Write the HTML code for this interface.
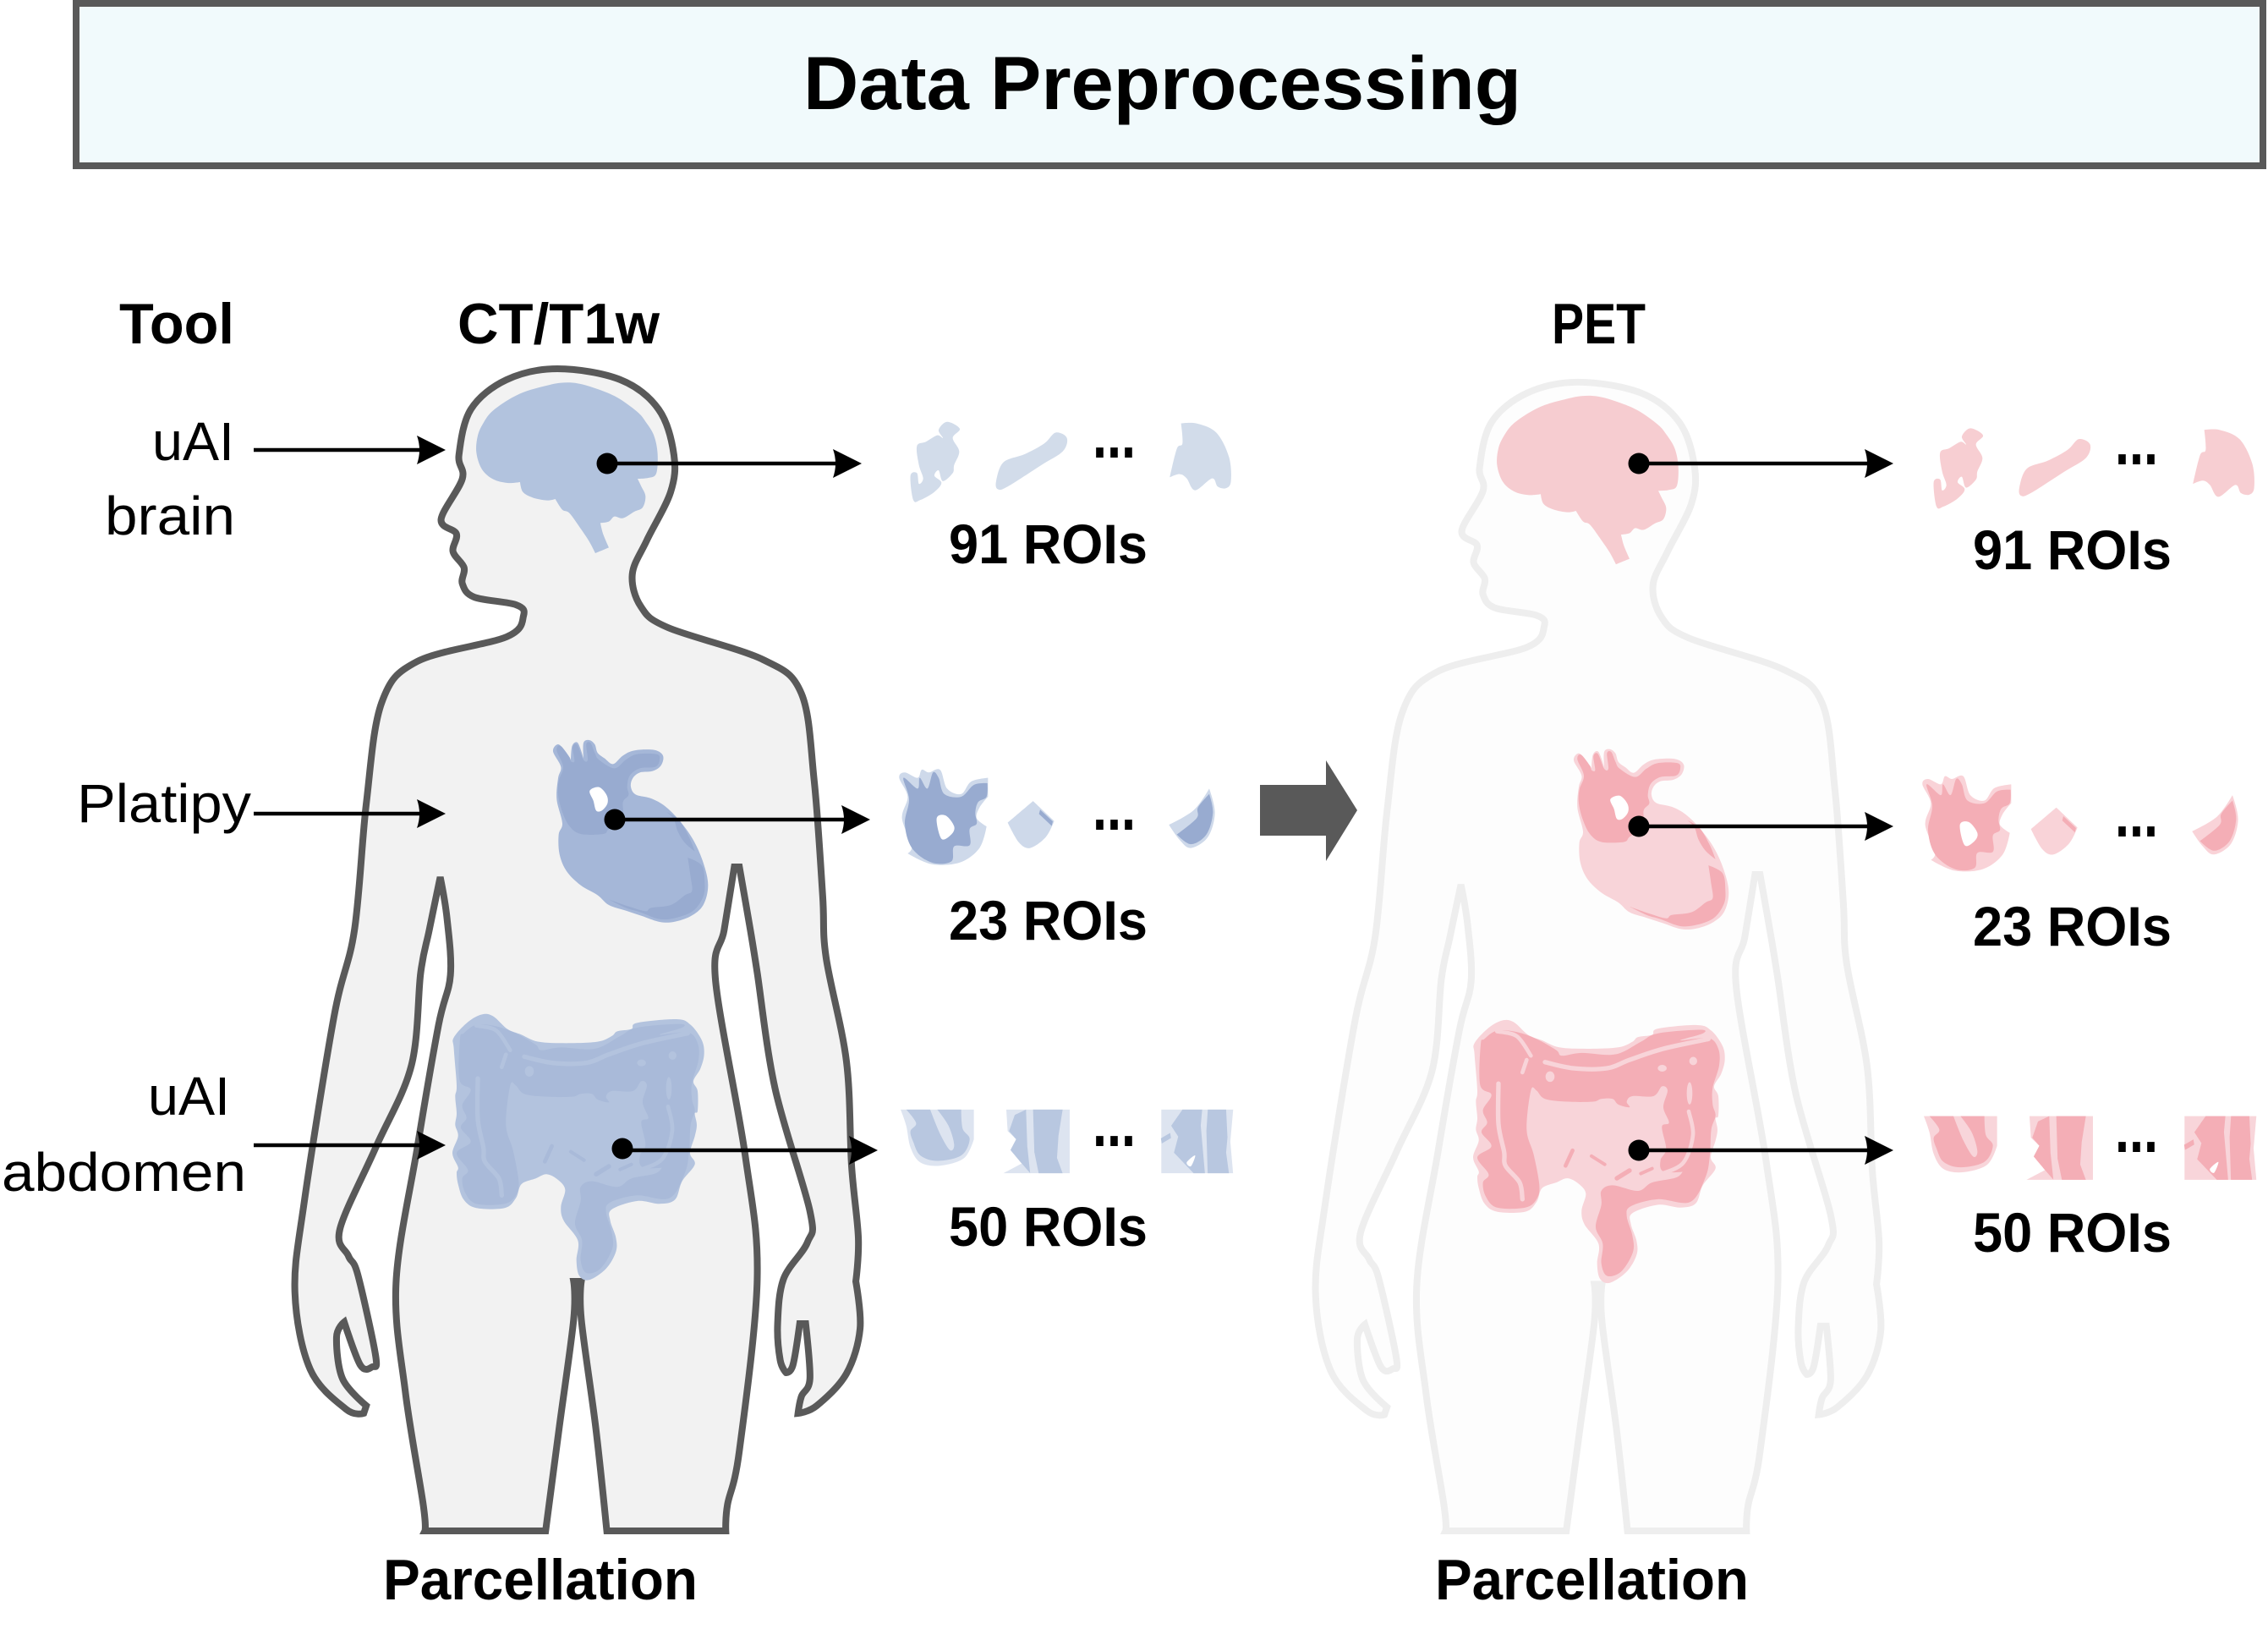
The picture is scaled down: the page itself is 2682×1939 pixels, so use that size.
<!DOCTYPE html>
<html lang="en">
<head>
<meta charset="utf-8">
<title>Data Preprocessing</title>
<style>
  html, body { margin: 0; padding: 0; background: #ffffff; }
  svg { display: block; }
  text { font-family: "Liberation Sans", sans-serif; fill: #000000; }
  .b { font-weight: 700; }
  .lbl { font-size: 64px; }
  .hdr { font-size: 68px; font-weight: 700; }
  .roi { font-size: 66px; font-weight: 700; }
  .dots { font-size: 80px; font-weight: 700; }
  .arrow-line { stroke: #000; stroke-width: 4.5; }
</style>
</head>
<body>
<svg xmlns="http://www.w3.org/2000/svg" width="2682" height="1939" viewBox="0 0 2682 1939">
  <defs>
    <path id="body-shape" stroke-linejoin="miter" stroke-miterlimit="3" data-pts="544,566 540,538 554,484 596,449 656,436 730,449 775,484 793,538 789,582 761,639 744,679 754,717 786,742 898,780 943,820 958,923 968,1059 972,1132 996,1255 1002,1378 1010,1464 1007,1515! 1012,1571 996,1624 961,1662 939,1671! 943,1651 953,1630 948,1565! 941,1565! 933,1614 925,1623! 918,1608 915,1565 922,1512 950,1469 953,1432 912,1287 891,1150 883,1100 870,1025! 864,1025! 852,1100 842,1160 877,1367 891,1512 870,1715 856,1779 854,1810! 714,1810! 701,1688 684,1560 684,1515! 675,1515! 675,1560 658,1688 642,1810! 500,1810! 498,1779 477,1646 466,1517 491,1357 516,1212 530,1153 526,1086 518,1037! 505,1100 495,1150 484,1260 442,1357 400,1453 410,1485 421,1507 442,1603 438,1616 424,1614 405,1563! 396,1581 403,1630 431,1662! 428,1671! 407,1666 365,1619 347,1528 358,1421 393,1202 417,1100 431,950 449,831 491,782 596,753 616,728 607,715 558,706 544,690 546,671 533,652 537,631 519,614"></path>

    <g id="brain-shape" transform="translate(550,440) scale(0.3333)">
      <path fill="var(--brain)" data-pts="340,38 400,40 470,60 540,90 610,140 640,175 670,225 683,290 678,360 650,375 612,378! 625,405 640,440 630,480 600,495 560,518 530,512 510,530 480,535! 490,575 510,622! 462,642! 440,600 410,555 370,500 345,488 320,450! 290,455 240,445 205,425 195,390! 150,393 100,380 60,345 40,285 45,225 65,180 95,140 150,100 210,70 280,50"></path>
    </g>

    <g id="heart-shape" transform="translate(640,870) scale(0.3333)">
      <path fill="var(--hl)" data-pts="42,55 60,30 85,55 105,85! 110,35 130,25 150,80! 150,25 170,15 190,30 200,60 225,80 255,100 290,70 330,52 400,50 432,70 425,105 395,125 350,130 325,150 318,180 335,208 390,222 440,250 490,300 540,370 575,450 592,530 575,600 530,640 470,660 420,660 360,640 300,620 240,600 200,565 140,530 90,480 65,420 62,350 75,310 55,225 60,150 70,110"></path>
      <path fill="var(--hd)" data-pts="55,52 68,35 100,75 105,90 118,90 112,40 128,32 150,85 165,85 160,30 175,25 190,60 205,85 260,115 300,85 340,65 410,65 420,85 405,110 350,115 315,140 305,180 310,210 290,235 288,290 240,330 220,348 140,348 100,320 75,270 60,210 62,160 78,110"></path>
      <path fill="#ffffff" data-pts="172,195 205,182 232,210 235,240 215,265 195,265 185,230"></path>
      <path fill="var(--hd)" data-pts="520,432! 570,460 580,520 575,570 540,620 480,645 420,650 350,625 300,610 240,580! 310,605 370,622 390,610 460,600 510,565 535,550 530,500"></path>
      <path fill="var(--hd)" data-pts="445,270! 490,300 525,360 545,410! 510,380 485,340 470,295"></path>
    </g>

    <g id="colon-shape" transform="translate(520,1190) scale(0.3333)">
      <path fill="var(--cl)" data-pts="50,110 100,55 150,28 190,35 240,80 290,100 350,125 450,130 560,125 610,105 630,88 680,80 700,58 840,45 890,65 930,120 938,170 925,220 900,265 915,300 915,370 905,380 912,420 905,460 888,520 905,560 860,620 835,685 780,700 700,690 610,720 605,760 625,820 625,870 590,930 530,970 495,955 485,900 490,830 440,760 430,710 445,650 420,615 380,595 340,610 290,630 270,680 230,715 130,715 85,685 65,630 60,590 65,570 45,520 65,460 55,420 60,380 55,320 60,280 50,150"></path>
      <path fill="var(--cd)" data-pts="72,115 85,95 130,65 200,70 270,95 340,135 360,155 430,145 550,150 640,105 700,75 850,62 860,75 780,100 880,92 915,130 918,190 895,270 895,330 905,370 890,420 885,510 870,590 815,680 700,670 605,695 590,730 610,800 612,860 570,930 520,945 500,900 505,830 480,770 500,690 500,640 540,620 630,640 680,610 770,590 800,550 800,570 720,570 710,530 730,490 715,410 740,395 720,340 735,280 715,265 685,300 610,300 590,320 600,340 560,330 540,310 500,310 470,320 380,320 300,310 270,280 250,280 235,420 260,510 280,620 270,670 230,700 130,700 90,660 80,610 100,580 60,520 110,480 75,430 95,395 80,350 110,295 70,260"></path>
      <path fill="none" stroke="var(--cl)" stroke-width="16" stroke-linecap="round" data-open="1" data-pts="135,255 135,400 155,500 160,550 210,610 220,670"></path>
      <path fill="none" stroke="var(--cl)" stroke-width="16" stroke-linecap="round" data-open="1" data-pts="300,178 400,200 520,200 600,170 720,130 880,95"></path>
      <path fill="none" stroke="var(--cl)" stroke-width="14" stroke-linecap="round" data-open="1" data-pts="130,68 200,85 250,155"></path>
      <path fill="none" stroke="var(--cl)" stroke-width="14" stroke-linecap="round" data-open="1" data-pts="235,170 220,215"></path>
      <path fill="none" stroke="var(--cl)" stroke-width="14" stroke-linecap="round" data-open="1" data-pts="810,355 825,440 790,540 710,580"></path>
      <ellipse cx="318" cy="230" rx="16" ry="19" fill="var(--cl)"></ellipse>
      <ellipse cx="716" cy="200" rx="16" ry="12" fill="var(--cl)"></ellipse>
      <ellipse cx="826" cy="174" rx="14" ry="15" fill="var(--cl)"></ellipse>
      <ellipse cx="813" cy="290" rx="10" ry="40" fill="var(--cl)"></ellipse>
      <path fill="none" stroke="var(--cd)" stroke-width="14" stroke-linecap="round" data-open="1" data-pts="398,495 373,550"></path>
      <path fill="none" stroke="var(--cd)" stroke-width="12" stroke-linecap="round" data-open="1" data-pts="465,515 512,545"></path>
      <path fill="none" stroke="var(--cd)" stroke-width="16" stroke-linecap="round" data-open="1" data-pts="555,595 600,567"></path>
      <path fill="none" stroke="var(--cd)" stroke-width="12" stroke-linecap="round" data-open="1" data-pts="640,578 680,560"></path>
    </g>

    <g id="roi-set" transform="translate(1040,470) scale(0.3333,0.6378)">
      <path fill="var(--ra)" data-pts="95,145 118,140 125,160 140,150 125,125 118,90 150,82 190,70 210,75 195,60 225,45 270,58 245,75 268,100 250,125 245,140 210,155 195,135 180,145 205,158 180,175 130,190 105,190"></path>
      <path fill="var(--ra)" data-pts="399,155 425,120 500,105 570,85 610,65 650,75 635,100 560,125 440,165 405,170"></path>
      <path fill="var(--ra)" data-pts="1015,148! 1040,95 1060,85 1055,48! 1110,48 1180,65 1225,110 1232,155 1215,168 1185,165 1165,150 1105,172 1075,150 1050,142"></path>

      <path fill="var(--rbl)" data-pts="55,705 75,695 120,705 135,690 160,695 200,690 225,725 275,735 310,712 370,705! 370,740! 340,760 330,780 365,795! 340,835 270,862 170,865 85,845! 100,830 65,780 85,740"></path>
      <path fill="var(--rbd)" data-pts="70,705 120,725 128,705 155,725 175,695 195,705 215,735 275,740 320,718 368,715! 365,740 335,750 325,770 330,790 305,800 305,830 250,832 240,860 170,862 100,835 75,790 90,745"></path>
      <path fill="#ffffff" data-pts="188,780 220,775 250,795 240,810 205,818"></path>
      <path fill="var(--rbl)" data-pts="440,788! 530,748! 605,785! 575,815 520,835 480,825"></path>
      <path fill="none" stroke="var(--rbd)" stroke-width="9" data-open="1" data-pts="553,768 598,790"></path>
      <path fill="var(--rbl)" data-pts="1012,792! 1100,765 1155,725! 1175,770 1150,815 1090,835 1050,820"></path>
      <path fill="var(--rbd)" data-pts="1040,810! 1110,780 1115,760 1155,735! 1168,770 1145,810 1090,828"></path>

      <path fill="var(--rcl)" data-pts="60,1320! 320,1320! 320,1375! 285,1410 200,1424 130,1418 95,1390 80,1350"></path>
      <path fill="var(--rcd)" data-pts="80,1320! 165,1320! 200,1365 235,1395 250,1385 230,1350 190,1320! 275,1320! 280,1355 305,1375 275,1405 190,1415 130,1405 105,1380 95,1360 115,1345"></path>
      <path fill="var(--rcl)" data-sharp="1" data-pts="435,1320 660,1320 660,1438 425,1438 490,1420 450,1395 470,1375 440,1360"></path>
      <path fill="var(--rcd)" data-sharp="1" data-pts="465,1330 505,1320 510,1390 520,1438 490,1420 450,1395 470,1375 445,1360"></path>
      <path fill="var(--rcd)" data-sharp="1" data-pts="530,1320 635,1320 620,1370 615,1410 635,1438 550,1438 535,1400"></path>
      <path fill="var(--rcl)" data-sharp="1" data-pts="985,1320 1240,1320 1230,1380 1240,1438 985,1438"></path>
      <path fill="var(--rcd)" data-sharp="1" data-pts="1060,1320 1130,1320 1125,1350 1140,1438 1100,1438 1030,1400 1045,1370 1020,1350"></path>
      <path fill="var(--rcd)" data-sharp="1" data-pts="1150,1320 1215,1320 1220,1370 1215,1400 1225,1438 1150,1438 1145,1360"></path>
      <path fill="#ffffff" data-pts="1075,1418 1105,1405 1090,1425"></path>
      <path fill="none" stroke="var(--rcd)" stroke-width="10" data-open="1" data-pts="985,1378 1018,1368"></path>
    </g>
  </defs>

  <rect x="90" y="4" width="2586" height="192" fill="#f1fafc" stroke="#595959" stroke-width="8"></rect>
  <text class="b" x="950" y="129" font-size="89" textLength="849" lengthAdjust="spacingAndGlyphs">Data Preprocessing</text>

  <text class="hdr" x="141" y="406" textLength="136" lengthAdjust="spacingAndGlyphs">Tool</text>
  <text class="hdr" x="541" y="406" textLength="239" lengthAdjust="spacingAndGlyphs">CT/T1w</text>
  <text class="hdr" x="1835" y="406" textLength="111" lengthAdjust="spacingAndGlyphs">PET</text>

  <text class="lbl" x="180" y="544" textLength="97" lengthAdjust="spacingAndGlyphs">uAI</text>
  <text class="lbl" x="124" y="632" textLength="154" lengthAdjust="spacingAndGlyphs">brain</text>
  <text class="lbl" x="91" y="972" textLength="206" lengthAdjust="spacingAndGlyphs">Platipy</text>
  <text class="lbl" x="175" y="1318" textLength="97" lengthAdjust="spacingAndGlyphs">uAI</text>
  <text class="lbl" x="2" y="1408" textLength="289" lengthAdjust="spacingAndGlyphs">abdomen</text>

  <!-- CT / T1w figure -->
  <g style="--brain:#b2c3de;--hl:#a5b7d8;--hd:#98abd0;--cl:#b3c3de;--cd:#a9bad9;">
    <use href="#body-shape" transform="matrix(1.005,0,0,1,0,0)" fill="#f2f2f2" stroke="#595959" stroke-width="8"></use>
    <use href="#brain-shape"></use>
    <use href="#heart-shape"></use>
    <use href="#colon-shape"></use>
  </g>

  <!-- PET figure -->
  <g transform="matrix(1,0,0,0.9885,1207,20.8)" style="--brain:#f6ccd0;--hl:#f8d4d9;--hd:#f4aeb6;--cl:#f8d4d9;--cd:#f4aeb6;">
    <use href="#body-shape" transform="matrix(1.005,0,0,1,0,0)" fill="#fdfdfd" stroke="#eeeeee" stroke-width="8"></use>
    <use href="#brain-shape"></use>
    <use href="#heart-shape"></use>
    <use href="#colon-shape"></use>
  </g>

  <!-- ROI fragments -->
  <use href="#roi-set" transform="translate(5,0)" style="--ra:#d2dcea;--rbl:#ced9ea;--rbd:#98abd0;--rcl:#dde4f0;--rcd:#b8c7e0;"></use>
  <use href="#roi-set" transform="translate(1215,7.7)" style="--ra:#f7ced2;--rbl:#f9d3d8;--rbd:#f4aeb6;--rcl:#f8d5da;--rcd:#f4aeb6;"></use>

  <!-- Tool input arrows -->
  <g>
    <line class="arrow-line" x1="300" y1="532" x2="510" y2="532"></line>
    <path d="M527,532 L493,515 Q499,532 493,549 Z"></path>
  </g>
  <g>
    <line class="arrow-line" x1="300" y1="962" x2="510" y2="962"></line>
    <path d="M527,962 L493,945 Q499,962 493,979 Z"></path>
  </g>
  <g>
    <line class="arrow-line" x1="300" y1="1354" x2="510" y2="1354"></line>
    <path d="M527,1354 L493,1337 Q499,1354 493,1371 Z"></path>
  </g>

  <!-- CT output arrows -->
  <g>
    <circle cx="718" cy="548" r="12.5"></circle>
    <line class="arrow-line" x1="718" y1="548" x2="1005" y2="548"></line>
    <path d="M1019,548 L985,531 Q991,548 985,565 Z"></path>
  </g>
  <g>
    <circle cx="727" cy="969" r="12.5"></circle>
    <line class="arrow-line" x1="727" y1="969" x2="1015" y2="969"></line>
    <path d="M1029,969 L995,952 Q1001,969 995,986 Z"></path>
  </g>
  <g>
    <circle cx="736" cy="1358" r="12.5"></circle>
    <line class="arrow-line" x1="736" y1="1360" x2="1024" y2="1360"></line>
    <path d="M1038,1360 L1004,1343 Q1010,1360 1004,1377 Z"></path>
  </g>

  <!-- PET output arrows -->
  <g>
    <circle cx="1938" cy="548" r="12.5"></circle>
    <line class="arrow-line" x1="1938" y1="548" x2="2225" y2="548"></line>
    <path d="M2239,548 L2205,531 Q2211,548 2205,565 Z"></path>
  </g>
  <g>
    <circle cx="1938" cy="977" r="12.5"></circle>
    <line class="arrow-line" x1="1938" y1="977" x2="2225" y2="977"></line>
    <path d="M2239,977 L2205,960 Q2211,977 2205,994 Z"></path>
  </g>
  <g>
    <circle cx="1938" cy="1360" r="12.5"></circle>
    <line class="arrow-line" x1="1938" y1="1360" x2="2225" y2="1360"></line>
    <path d="M2239,1360 L2205,1343 Q2211,1360 2205,1377 Z"></path>
  </g>

  <polygon points="1490,928 1568,928 1568,899 1605,958 1568,1018 1568,988 1490,988" fill="#595959"></polygon>

  <!-- ROI labels -->
  <text class="roi" x="1122" y="666" textLength="235" lengthAdjust="spacingAndGlyphs">91 ROIs</text>
  <text class="roi" x="1122" y="1111" textLength="235" lengthAdjust="spacingAndGlyphs">23 ROIs</text>
  <text class="roi" x="1122" y="1473" textLength="235" lengthAdjust="spacingAndGlyphs">50 ROIs</text>
  <text class="roi" x="2333" y="673" textLength="235" lengthAdjust="spacingAndGlyphs">91 ROIs</text>
  <text class="roi" x="2333" y="1118" textLength="235" lengthAdjust="spacingAndGlyphs">23 ROIs</text>
  <text class="roi" x="2333" y="1480" textLength="235" lengthAdjust="spacingAndGlyphs">50 ROIs</text>

  <!-- Ellipses -->
  <text class="dots" x="1292" y="541" textLength="51" lengthAdjust="spacingAndGlyphs">...</text>
  <text class="dots" x="1292" y="981" textLength="51" lengthAdjust="spacingAndGlyphs">...</text>
  <text class="dots" x="1292" y="1355" textLength="51" lengthAdjust="spacingAndGlyphs">...</text>
  <text class="dots" x="2501" y="549" textLength="51" lengthAdjust="spacingAndGlyphs">...</text>
  <text class="dots" x="2501" y="989" textLength="51" lengthAdjust="spacingAndGlyphs">...</text>
  <text class="dots" x="2501" y="1362" textLength="51" lengthAdjust="spacingAndGlyphs">...</text>

  <text class="hdr" x="453" y="1891" textLength="372" lengthAdjust="spacingAndGlyphs">Parcellation</text>
  <text class="hdr" x="1697" y="1891" textLength="371" lengthAdjust="spacingAndGlyphs">Parcellation</text>
</svg>

<script>
// Turns each shape's point list into a smooth outline (points ending in "!" stay sharp corners).
function buildPath(el) {
  var raw = el.getAttribute('data-pts').trim().split(/\s+/);
  var open = el.hasAttribute('data-open');
  var sharp = el.hasAttribute('data-sharp');
  var pts = raw.map(function (s) {
    var corner = s.charAt(s.length - 1) === '!';
    var xy = s.replace('!', '').split(',');
    return { x: +xy[0], y: +xy[1], corner: corner || sharp };
  });
  var n = pts.length;
  function at(i) {
    if (open) { return pts[Math.max(0, Math.min(n - 1, i))]; }
    return pts[(i + n) % n];
  }
  var d = 'M' + pts[0].x + ',' + pts[0].y;
  var segs = open ? n - 1 : n;
  for (var i = 0; i < segs; i++) {
    var p0 = at(i - 1), p1 = at(i), p2 = at(i + 1), p3 = at(i + 2);
    var c1x = p1.corner ? p1.x : p1.x + (p2.x - p0.x) / 6;
    var c1y = p1.corner ? p1.y : p1.y + (p2.y - p0.y) / 6;
    var c2x = p2.corner ? p2.x : p2.x - (p3.x - p1.x) / 6;
    var c2y = p2.corner ? p2.y : p2.y - (p3.y - p1.y) / 6;
    d += 'C' + c1x.toFixed(1) + ',' + c1y.toFixed(1) + ' ' + c2x.toFixed(1) + ',' + c2y.toFixed(1) + ' ' + p2.x + ',' + p2.y;
  }
  if (!open) { d += 'Z'; }
  el.setAttribute('d', d);
}
document.querySelectorAll('path[data-pts]').forEach(buildPath);
</script>
</body>
</html>
